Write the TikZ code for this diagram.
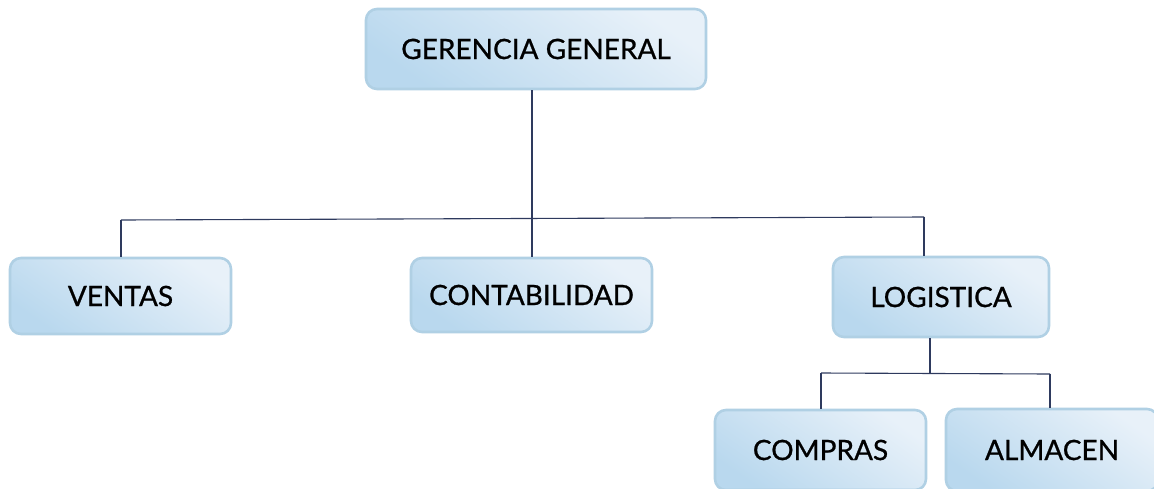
\documentclass[tikz,border=0pt]{standalone}
\usepackage{fontspec}
\setmainfont{Lato}
\usetikzlibrary{shadings}
\definecolor{boxdark}{HTML}{B9D8EE}
\definecolor{boxmid}{HTML}{CFE4F3}
\definecolor{boxlight}{HTML}{E8F1F9}
\definecolor{boxedge}{HTML}{B0D0E4}
\definecolor{linecol}{HTML}{2E3A5E}
\begin{document}
\begin{tikzpicture}[x=1pt,y=-1pt,
  orgbox/.style={draw=boxedge, line width=2.6pt, rounded corners=11pt,
    shading=axis, left color=boxlight, right color=boxdark, shading angle=-35,
    inner sep=0pt, font=\fontsize{28}{32}\selectfont\addfontfeature{FakeBold=0.8}, text=black},
  wire/.style={draw=linecol, line width=1.1pt}]
\useasboundingbox (0,0) rectangle (1154,488);
\clip (0,0) rectangle (1154,488);
\node[orgbox, minimum width=340pt, minimum height=80pt] (gg) at (536,49) {GERENCIA GENERAL};
\node[orgbox, minimum width=221pt, minimum height=76pt] (ve) at (120.5,296) {VENTAS};
\node[orgbox, minimum width=241pt, minimum height=74pt] (co) at (531.5,295) {CONTABILIDAD};
\node[orgbox, minimum width=216pt, minimum height=80pt] (lo) at (941,297) {LOGISTICA};
\node[orgbox, minimum width=211pt, minimum height=80pt] (cm) at (820.5,450) {COMPRAS};
\node[orgbox, minimum width=212pt, minimum height=82pt] (al) at (1052,450) {ALMACEN};
\coordinate (t1) at (532,219);
\coordinate (hl) at (121,220);
\coordinate (hr) at (924,217);
\coordinate (t2) at (930,373);
\coordinate (sl) at (821,373);
\coordinate (sr) at (1050,374);
\draw[wire] (gg.south -| t1) -- (t1);
\draw[wire] (hl) -- (hr);
\draw[wire] (hl) -- (ve.north -| hl);
\draw[wire] (t1) -- (co.north -| t1);
\draw[wire] (hr) -- (lo.north -| hr);
\draw[wire] (lo.south -| t2) -- (t2);
\draw[wire] (sl) -- (sr);
\draw[wire] (sl) -- (cm.north -| sl);
\draw[wire] (sr) -- (al.north -| sr);
\end{tikzpicture}
\end{document}
